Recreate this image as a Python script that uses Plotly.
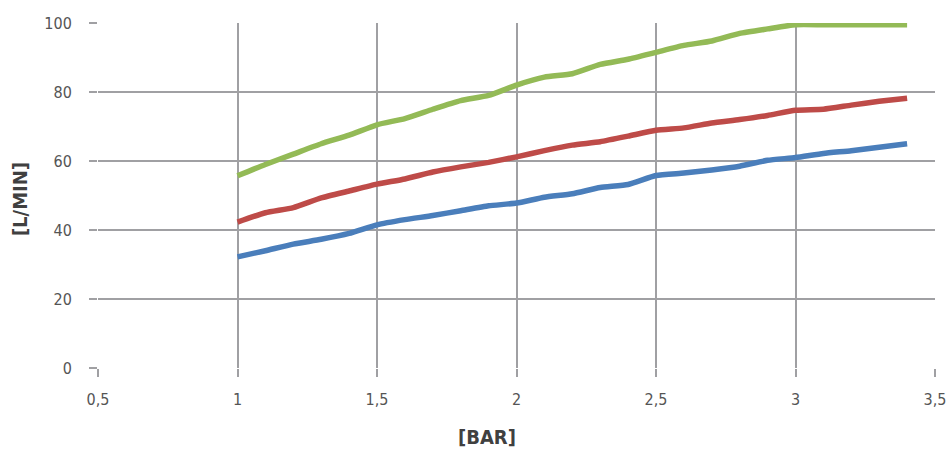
import plotly.graph_objects as go

pressure_bar = [1.0, 1.1, 1.2, 1.3, 1.4, 1.5, 1.6, 1.7, 1.8, 1.9, 2.0, 2.1, 2.2,
                2.3, 2.4, 2.5, 2.6, 2.7, 2.8, 2.9, 3.0, 3.1, 3.2, 3.3, 3.4]
flow_blue = [32.2, 34.0, 35.9, 37.3, 39.0, 41.5, 43.0, 44.2, 45.6, 47.0, 47.8, 49.5, 50.5,
             52.3, 53.2, 55.8, 56.5, 57.4, 58.5, 60.2, 61.0, 62.2, 63.0, 64.0, 65.0]
flow_red = [42.3, 45.0, 46.5, 49.3, 51.3, 53.3, 54.8, 56.8, 58.3, 59.6, 61.2, 63.0, 64.6,
            65.6, 67.2, 68.9, 69.6, 71.0, 72.0, 73.2, 74.7, 75.0, 76.2, 77.3, 78.2]
flow_green = [55.7, 59.0, 62.0, 65.0, 67.5, 70.5, 72.3, 75.0, 77.5, 79.0, 82.0, 84.3, 85.3,
              88.0, 89.5, 91.5, 93.5, 94.8, 97.0, 98.3, 99.5, 99.5, 99.5, 99.5, 99.5]

x_title = "[BAR]"
y_title = "[L/MIN]"

series = [
    (flow_blue, "#4A7EBB"),
    (flow_red, "#BE4B48"),
    (flow_green, "#93BA56"),
]

font_family = "DejaVu Sans Condensed, Liberation Sans Narrow, Roboto, sans-serif"
grid_color = "#A0A0A3"

fig = go.Figure()
for vals, color in series:
    fig.add_trace(go.Scatter(
        x=pressure_bar, y=vals, mode="lines",
        line=dict(color=color, width=5.5, shape="spline", smoothing=0.5),
        showlegend=False, hoverinfo="x+y",
    ))

fig.update_layout(
    width=949, height=452,
    margin=dict(l=98, r=14, t=23, b=84),
    paper_bgcolor="white", plot_bgcolor="white",
    separators=",.",
    font=dict(family=font_family, size=16, color="#555555"),
    annotations=[
        dict(text="<b>" + x_title + "</b>", xref="paper", yref="paper",
             x=0.465, y=-0.2, xanchor="center", yanchor="middle", showarrow=False,
             font=dict(family=font_family, size=20, color="#404040")),
        dict(text="<b>" + y_title + "</b>", xref="paper", yref="paper",
             x=-0.093, y=0.49, xanchor="center", yanchor="middle", showarrow=False,
             textangle=-90,
             font=dict(family=font_family, size=20, color="#404040")),
    ],
)

fig.update_xaxes(
    range=[0.5, 3.5], tick0=0.5, dtick=0.5, automargin=False,
    showgrid=True, gridcolor=grid_color, gridwidth=2,
    ticks="outside", ticklen=8, tickwidth=2, tickcolor=grid_color,
    showline=False, zeroline=False, ticklabelstandoff=9,
    tickfont=dict(family=font_family, size=16, color="#555555"),
)
fig.update_yaxes(
    range=[0, 100], tick0=0, dtick=20, automargin=False,
    showgrid=True, gridcolor=grid_color, gridwidth=2,
    ticks="outside", ticklen=8, tickwidth=2, tickcolor=grid_color,
    showline=False, zeroline=False, ticklabelstandoff=14,
    tickfont=dict(family=font_family, size=16, color="#555555"),
)

fig.write_html(
    "out.html",
    config={"displayModeBar": False},
    post_script="document.body.style.margin='0';document.body.style.overflow='hidden';",
)
